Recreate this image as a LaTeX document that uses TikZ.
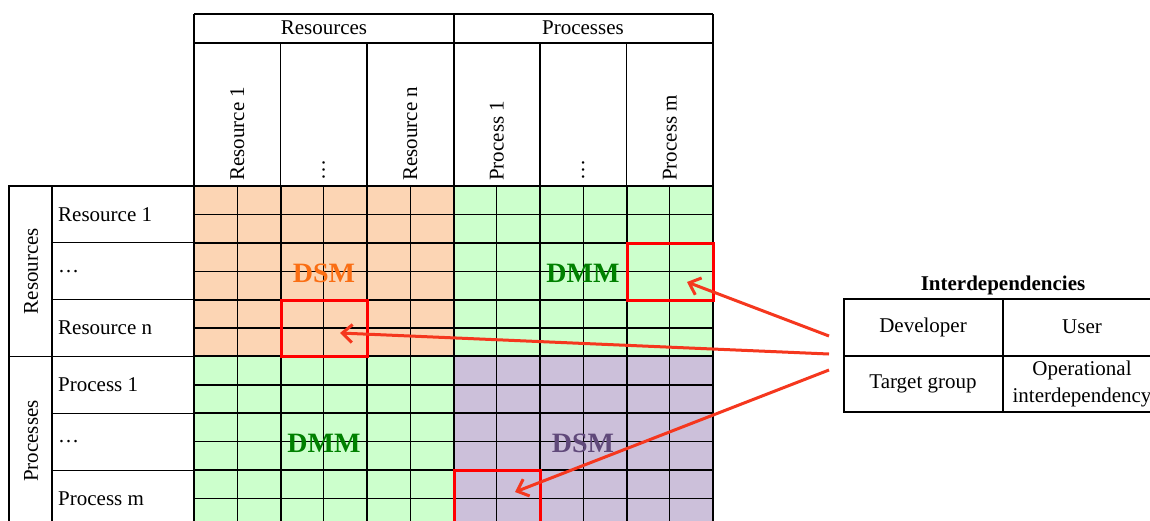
\documentclass[tikz,border=0pt]{standalone}
\usepackage{fontspec}
\setmainfont{Liberation Serif}
\usetikzlibrary{arrows.meta}
\definecolor{dsmorange}{RGB}{252,213,180}
\definecolor{dmmgreen}{RGB}{204,255,204}
\definecolor{dsmpurple}{RGB}{204,192,218}
\definecolor{dsmtext}{RGB}{250,110,20}
\definecolor{dmmtext}{RGB}{0,128,0}
\definecolor{dsmptext}{RGB}{96,73,122}
\definecolor{markred}{RGB}{255,0,0}
\definecolor{arrowred}{RGB}{245,55,30}
\tikzset{
  lbl/.style={font=\fontsize{21}{27}\selectfont, inner sep=0pt},
  collbl/.style={lbl, rotate=90, anchor=west},
  rowlbl/.style={lbl, anchor=west},
  blocklbl/.style={font=\fontsize{28}{30}\selectfont\bfseries, inner sep=0pt},
  thin grid/.style={line width=1.2pt},
  thick grid/.style={line width=2pt},
  markbox/.style={draw=markred, line width=3pt},
  pointer/.style={draw=arrowred, line width=3pt, -{Straight Barb[length=10pt,width=18pt]}},
}
\begin{document}
\begin{tikzpicture}[x=1pt,y=-1pt]
  \clip (0,0) rectangle (1150,520);
  % block fills
  \foreach \c/\r/\col in {0/0/dsmorange, 3/0/dmmgreen, 0/3/dmmgreen, 3/3/dsmpurple}
    \fill[\col] (194+\c*86.5, 186+\r*56.83) rectangle ++(259.5, 170.5);
  % half cells
  \foreach \i in {1,3,...,11} {
    \draw[thin grid] (194+\i*43.25, 186) -- (194+\i*43.25, 527);
    \draw[thin grid] (194, 186+\i*28.417) -- (713, 186+\i*28.417);
  }
  % whole cells
  \foreach \i in {0,...,6} {
    \draw[thick grid] (194+\i*86.5, 186) -- (194+\i*86.5, 527);
    \draw[thick grid] (194, 186+\i*56.83) -- (713, 186+\i*56.83);
  }
  % column header
  \draw[thin grid] (194,14) -- (713,14) (194,43) -- (713,43)
    (194,14) -- (194,186) (454,14) -- (454,186) (713,14) -- (713,186);
  \foreach \i in {1,2,4,5}
    \draw[thin grid] (194+\i*86.5, 43) -- (194+\i*86.5, 186);
  \node[lbl] (hres) at (324,28) {Resources};
  \node[lbl] (hproc) at (583,28) {Processes};
  \foreach \t [count=\i] in {Resource 1, \ldots, Resource n, Process 1, \ldots, Process m}
    \node[collbl] (c\i) at (194+\i*86.5-43.25, 181) {\t};
  % row header
  \draw[thin grid] (9,186) rectangle (194,527) (52,186) -- (52,527)
    (9,356.5) -- (194,356.5);
  \foreach \i in {1,2,4,5}
    \draw[thin grid] (52, 186+\i*56.83) -- (194, 186+\i*56.83);
  \node[lbl, rotate=90] (gres) at (31,271) {Resources};
  \node[lbl, rotate=90] (gproc) at (31,441) {Processes};
  \foreach \t [count=\i] in {Resource 1, \ldots, Resource n, Process 1, \ldots, Process m}
    \node[rowlbl] (r\i) at (58, 186+\i*56.83-28.417) {\t};
  % block names
  \node[blocklbl, text=dsmtext] (dsm1) at (324,273) {DSM};
  \node[blocklbl, text=dmmtext] (dmm1) at (583,273) {DMM};
  \node[blocklbl, text=dmmtext] (dmm2) at (324,443) {DMM};
  \node[blocklbl, text=dsmptext] (dsm2) at (583,443) {DSM};
  % marked cells
  \draw[markbox] (281,300) rectangle (367,356.5);
  \draw[markbox] (627,243) rectangle (713,300);
  \draw[markbox] (454,470) rectangle (540,540);
  % interdependencies table
  \node[lbl, font=\fontsize{21}{27}\selectfont\bfseries] (ttl) at (1003,285) {Interdependencies};
  \draw[thick grid] (844,299) rectangle (1170,412);
  \draw[thin grid] (844,356) -- (1170,356) (1003,299) -- (1003,412);
  \node[lbl] (dev) at (923,327) {Developer};
  \node[lbl] (usr) at (1082,327) {User};
  \node[lbl] (tgt) at (923,384) {Target group};
  \node[lbl, align=center] (ops) at (1082,384) {Operational\\interdependency};
  % pointers
  \coordinate (t1) at (829,336);
  \coordinate (t2) at (829,354);
  \coordinate (t3) at (829,370);
  \coordinate (h1) at (687,282);
  \coordinate (h2) at (340,333);
  \coordinate (h3) at (515,492);
  \draw[pointer] (t1) -- (h1);
  \draw[pointer] (t2) -- (h2);
  \draw[pointer] (t3) -- (h3);
\end{tikzpicture}
\end{document}
